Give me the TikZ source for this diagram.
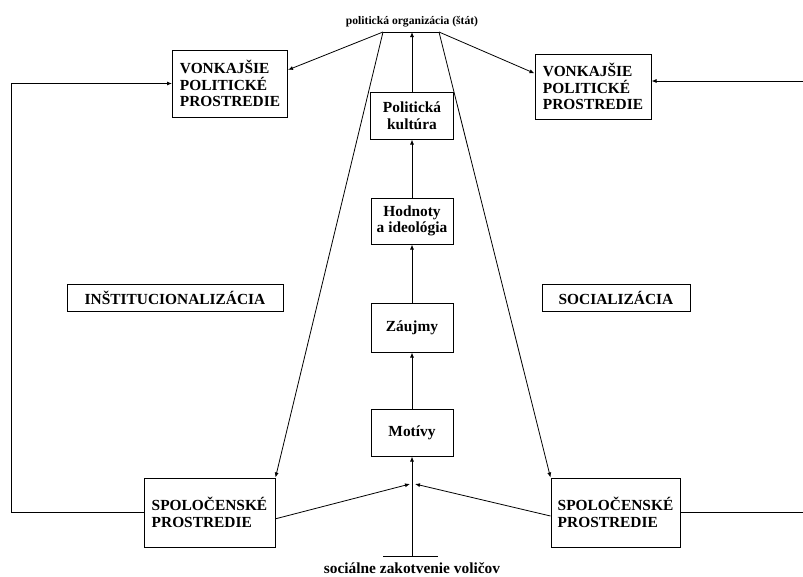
\documentclass[tikz,border=0pt]{standalone}
\usepackage{fontspec}
\setmainfont{Liberation Serif}
\usetikzlibrary{arrows.meta, calc}

\begin{document}
\begin{tikzpicture}[x=1pt, y=-1pt,
  every node/.style={font=\fontsize{15.4}{16.7}\selectfont\bfseries},
  box/.style={draw, line width=1pt, inner sep=0pt, align=center},
  envbox/.style={box, align=left},
  link/.style={line width=0.8pt, -{Latex[length=5pt,width=4pt]}},
  plain/.style={line width=0.8pt}]
  \useasboundingbox (0,0) rectangle (803,576);

  % state on top, voters at the bottom
  \node (state) at (412,22) [font=\fontsize{11.6}{13}\selectfont\bfseries] {politická organizácia (štát)};
  \coordinate (tl) at (383,32);
  \coordinate (tm) at (412,32);
  \coordinate (tr) at (439,32);
  \node (voters) at (412,568) {sociálne zakotvenie voličov};
  \coordinate (bl) at (383,556);
  \coordinate (bm) at (412,556);
  \coordinate (br) at (438,556);

  % environments
  \node[envbox, minimum width=115, minimum height=67] (vonkL) at (230,83.5) {VONKAJŠIE\\POLITICKÉ\\PROSTREDIE};
  \node[envbox, minimum width=116, minimum height=65] (vonkR) at (593,86.5) {VONKAJŠIE\\POLITICKÉ\\PROSTREDIE};
  \node[envbox, minimum width=131, minimum height=69] (spolL) at (209.5,512.5) {SPOLOČENSKÉ\\PROSTREDIE};
  \node[envbox, minimum width=129, minimum height=69] (spolR) at (615.5,512.5) {SPOLOČENSKÉ\\PROSTREDIE};

  % central column
  \node[box, minimum width=83, minimum height=47] (kult) at (412,115.5) {Politická\\kultúra};
  \node[box, minimum width=82, minimum height=46] (hodn) at (412,221) {Hodnoty\\a ideológia};
  \node[box, minimum width=82, minimum height=49] (zaujmy) at (412,327.5) {Záujmy};
  \node[box, minimum width=82, minimum height=47] (motivy) at (412,432.5) {Motívy};

  % processes
  \node[box, minimum width=216, minimum height=27] (inst) at (175,297.5) {INŠTITUCIONALIZÁCIA};
  \node[box, minimum width=148, minimum height=27] (soc) at (616,297.5) {SOCIALIZÁCIA};

  % connectors
  \draw[plain] (tl) -- (tr);
  \draw[plain] (bl) -- (br);
  \draw[link] (bm) -- (motivy);
  \draw[link] (motivy) -- (zaujmy);
  \draw[link] (zaujmy) -- (hodn);
  \draw[link] (hodn) -- (kult);
  \draw[link] (kult) -- (tm);
  \draw[link] (tl) -- ($(vonkL.north east)!0.3!(vonkL.south east)$);
  \draw[link] (tr) -- ($(vonkR.north west)!0.3!(vonkR.south west)$);
  \draw[link] (tl) -- (spolL.north east);
  \draw[link] (tr) -- (spolR.north west);

  \coordinate (mL) at (410,484);
  \coordinate (mR) at (415,484);
  \draw[link] ($(spolL.north east)!0.59!(spolL.south east)$) -- (mL);
  \draw[link] ($(spolR.north west)!0.55!(spolR.south west)$) -- (mR);

  % feedback to the outer environments
  \coordinate (leftTurn) at (11,0);
  \draw[link] (spolL.west) -| (leftTurn |- vonkL.west) -- (vonkL.west);
  \coordinate (rightEdge) at (803,0);
  \draw[plain] (spolR.east) -- (rightEdge |- spolR.east);
  \draw[link] (rightEdge |- 0,81) -- (vonkR.east |- 0,81);
\end{tikzpicture}
\end{document}
